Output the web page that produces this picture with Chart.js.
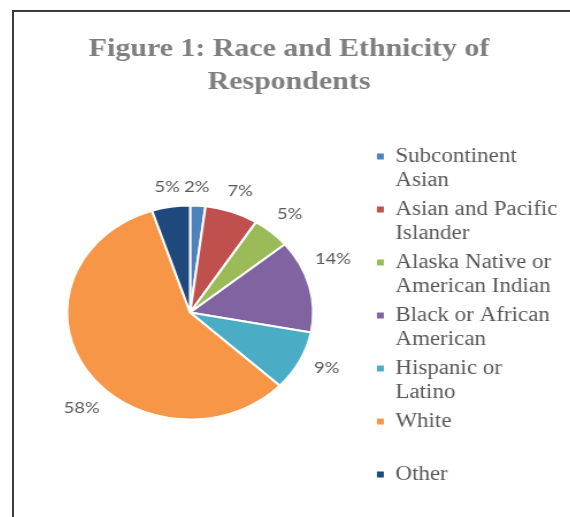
<!DOCTYPE html>
<html>
<head>
<meta charset="utf-8">
<script src="https://cdn.jsdelivr.net/npm/chart.js@4.4.0/dist/chart.umd.min.js"></script>
<style>
html,body{margin:0;padding:0;background:#fff;overflow:hidden;width:570px;height:517px;}
#frame{position:absolute;left:12px;top:10px;width:620px;height:560px;border-left:2px solid #3c3c3c;border-top:2px solid #3c3c3c;box-sizing:border-box;}
#wrap{position:absolute;left:9px;top:12px;width:501px;height:506px;transform:scaleX(1.15);transform-origin:0 0;}
</style>
</head>
<body>
<div id="frame"></div>
<div id="wrap"><canvas id="c"></canvas></div>
<script>
// ---- data ----
const titleLines = ['Figure 1: Race and Ethnicity of', 'Respondents'];
const categories = [
  ['Subcontinent', 'Asian'],
  ['Asian and Pacific', 'Islander'],
  ['Alaska Native or', 'American Indian'],
  ['Black or African', 'American'],
  ['Hispanic or', 'Latino'],
  ['White', ''],
  ['Other']
];
const values = [2, 7, 5, 14, 9, 58, 5];

// ---- style ----
const sliceColors = ['#4F81BD', '#C0504D', '#9BBB59', '#8064A2', '#4BACC6', '#F79646', '#1F497D'];
const labelNudgeDeg = [-1, 0, 0, -9, -2, -13, 0];
const labelGap = 11;

const sliceLabels = {
  id: 'sliceLabels',
  afterDatasetsDraw(chart) {
    const ctx = chart.ctx;
    const meta = chart.getDatasetMeta(0);
    const total = values.reduce((a, b) => a + b, 0);
    ctx.save();
    ctx.font = '16px Lato';
    ctx.fillStyle = '#595959';
    ctx.textAlign = 'center';
    ctx.textBaseline = 'middle';
    meta.data.forEach((arc, i) => {
      const p = arc.getProps(['x', 'y', 'startAngle', 'endAngle', 'outerRadius'], true);
      const mid = (p.startAngle + p.endAngle) / 2 + labelNudgeDeg[i] * Math.PI / 180;
      const txt = Math.round(values[i] / total * 100) + '%';
      const w = ctx.measureText(txt).width;
      const c = Math.cos(mid), s = Math.sin(mid);
      const d = p.outerRadius + labelGap + Math.abs(c) * w / 2 + Math.abs(s) * 7.5;
      ctx.fillText(txt, p.x + c * d, p.y + s * d);
    });
    ctx.restore();
  }
};

new Chart(document.getElementById('c'), {
  type: 'pie',
  data: {
    labels: categories,
    datasets: [{
      data: values,
      backgroundColor: sliceColors,
      borderColor: '#ffffff',
      borderWidth: 2,
      radius: 107
    }]
  },
  options: {
    responsive: true,
    maintainAspectRatio: false,
    animation: false,
    layout: { padding: { left: 0, right: 14, top: 0, bottom: 0 } },
    plugins: {
      tooltip: { enabled: false },
      title: {
        display: true,
        text: titleLines,
        color: '#7f7f7f',
        font: { family: 'Liberation Serif', size: 26, weight: 'bold', lineHeight: '33px' },
        padding: { top: 21, bottom: 8 }
      },
      legend: {
        position: 'right',
        fullSize: false,
        title: { display: true, text: '', font: { size: 10, lineHeight: '10px' }, padding: 0 },
        labels: {
          boxWidth: 6,
          boxHeight: 6,
          padding: 5,
          color: '#595959',
          font: { family: 'Liberation Serif', size: 20, lineHeight: '24px' },
          generateLabels(chart) {
            const items = Chart.overrides.pie.plugins.legend.labels.generateLabels(chart);
            return items.map(it => Object.assign({}, it, { lineWidth: 0, strokeStyle: 'rgba(0,0,0,0)' }));
          }
        }
      }
    }
  },
  plugins: [sliceLabels]
});
</script>
</body>
</html>
